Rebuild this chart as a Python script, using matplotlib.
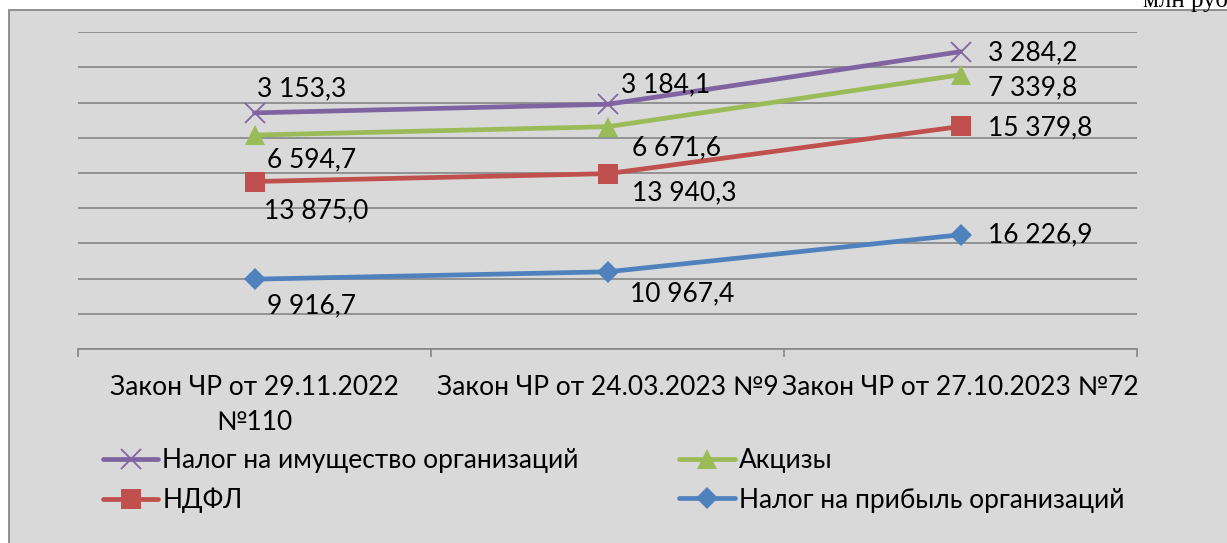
import numpy as np
import matplotlib.pyplot as plt
from matplotlib.patches import Rectangle

plt.rcParams['font.family'] = ['Lato', 'DejaVu Sans']

# Data (stacked line chart, млн руб.)
laws = ['Закон ЧР от 29.11.2022\n№110', 'Закон ЧР от 24.03.2023 №9',
        'Закон ЧР от 27.10.2023 №72']
profit = [9916.7, 10967.4, 16226.9]
ndfl = [13875.0, 13940.3, 15379.8]
excise = [6594.7, 6671.6, 7339.8]
prop = [3153.3, 3184.1, 3284.2]

names = ['Налог на прибыль организаций', 'НДФЛ', 'Акцизы',
         'Налог на имущество организаций']
colors = ['#4f81bd', '#c0504d', '#9bbb59', '#8064a2']
markers = ['D', 's', '^', 'x']
msizes = [11, 14, 14, 14]
# label offsets in points (dx, dy) for each point of each series
offsets = [
    [(9, -19), (16, -16), (20, 0)],
    [(7, -21), (18, -14), (20, -1)],
    [(9, -18), (18, -15), (20, -9)],
    [(2, 17), (10, 14), (20, -1)],
]

series = np.array([profit, ndfl, excise, prop])
stacked = np.cumsum(series, axis=0)
x = np.arange(len(laws)) + 0.5
FS = 19


def fmt(v):
    s = '{:,.1f}'.format(v)
    return s.replace(',', ' ').replace('.', ',')


fig = plt.figure(figsize=(12.27, 5.43), dpi=100, facecolor='white')
# chart area background and border
fig.patches.append(Rectangle((9 / 1227, -0.1), 1.2, 1.1 - 10 / 543,
                             transform=fig.transFigure, facecolor='#d9d9d9',
                             edgecolor='#888888', lw=1.3, zorder=-5))

ax = fig.add_axes([78 / 1227, 1 - 349 / 543, (1137 - 78) / 1227, (349 - 32.2) / 543])
ax.set_facecolor('none')
ax.set_zorder(2)

handles = {}
for i in range(4):
    ms = msizes[i]
    h, = ax.plot(x, stacked[i], color=colors[i], lw=3.4, marker=markers[i],
                 markersize=ms, markeredgewidth=1.3 if markers[i] == 'x' else 0,
                 markeredgecolor=colors[i], zorder=3, solid_capstyle='round')
    handles[names[i]] = h
    for j in range(len(x)):
        ax.annotate(fmt(series[i][j]), (x[j], stacked[i][j]),
                    xytext=offsets[i][j], textcoords='offset points',
                    ha='left', va='center', fontsize=FS, color='black')

ax.set_xlim(0, 3)
ax.set_ylim(0, 45000)
ax.set_yticks(np.arange(0, 45001, 5000))
ax.yaxis.grid(True, color='#868686', lw=1.2)
ax.set_axisbelow(True)
ax.tick_params(axis='y', left=False, labelleft=False)
for s in ['top', 'right', 'left']:
    ax.spines[s].set_visible(False)
ax.spines['bottom'].set_color('#868686')
ax.spines['bottom'].set_linewidth(1.2)

ax.set_xticks([0, 1, 2, 3])
ax.set_xticklabels([])
ax.tick_params(axis='x', which='major', length=6, color='#868686', width=1.2)
ax.set_xticks(x, minor=True)
ax.set_xticklabels(laws, minor=True, fontsize=FS, linespacing=1.5)
ax.tick_params(axis='x', which='minor', length=0, pad=19)

order = ['Налог на имущество организаций', 'НДФЛ', 'Акцизы',
         'Налог на прибыль организаций']
fig.legend([handles[n] for n in order], order, ncol=2, frameon=False,
           fontsize=FS, loc='upper left', bbox_to_anchor=(103 / 1227, 1 - 448 / 543),
           handlelength=2.1, handletextpad=0.15, columnspacing=3.8,
           labelspacing=0.55, borderaxespad=0, borderpad=0)

fig.text(1143 / 1227, 1 - 7 / 543, 'млн руб.', family='Liberation Serif',
         fontsize=18, ha='left', va='baseline')

fig.savefig('out.png', dpi=100, facecolor='white')
